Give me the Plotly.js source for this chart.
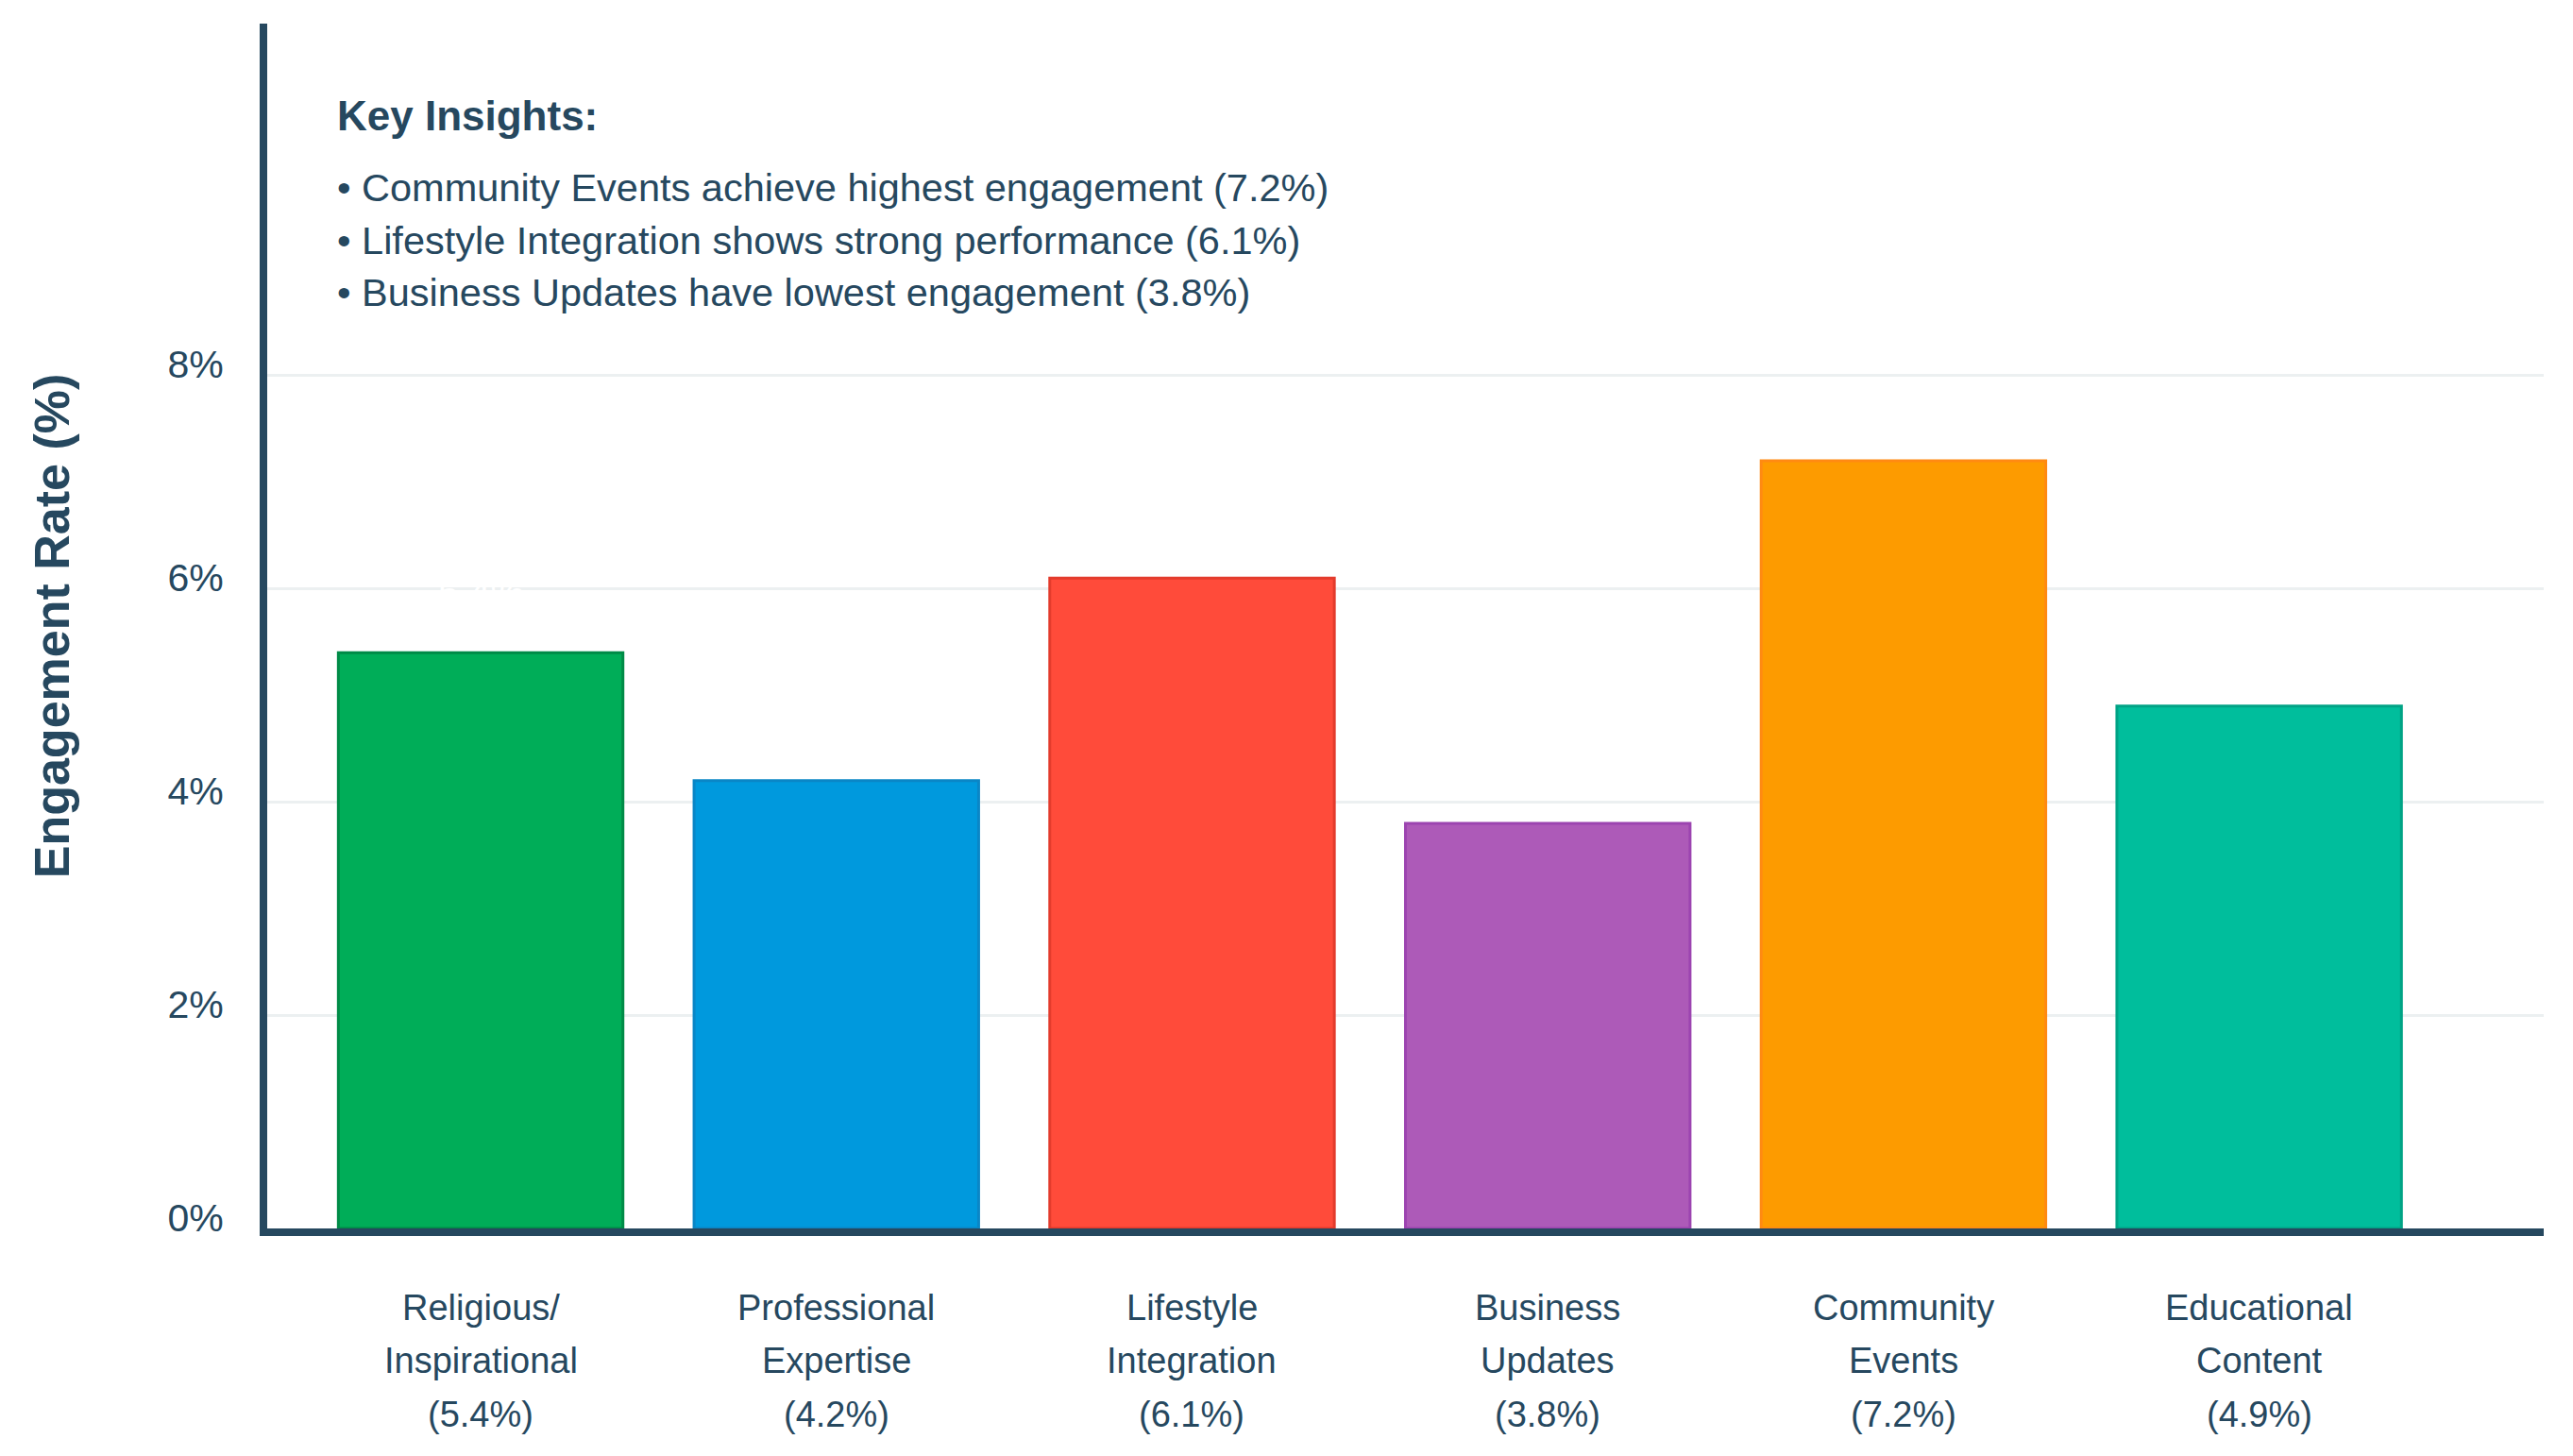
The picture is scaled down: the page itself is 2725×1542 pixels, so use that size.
<!DOCTYPE html>
<html>
<head>
<meta charset="utf-8">
<script src="https://cdn.plot.ly/plotly-3.0.1.min.js"></script>
<style>
  html, body { margin: 0; padding: 0; background: #ffffff; }
  #myDiv { width: 2725px; height: 1542px; }
</style>
</head>
<body>
<div id="myDiv"></div>
<script>
// categories and values
let categories = ["Religious/Inspirational", "Professional Expertise", "Lifestyle Integration",
  "Business Updates", "Community Events", "Educational Content"];
let labelTop = ["Religious/", "Professional", "Lifestyle", "Business", "Community", "Educational"];
let labelBottom = ["Inspirational", "Expertise", "Integration", "Updates", "Events", "Content"];
let engagement = [5.4, 4.2, 6.1, 3.8, 7.2, 4.9];

let barColors = ["#00ad58", "#0099dd", "#ff4b3a", "#ad5ab8", "#fd9b00", "#00be9c"];
let barLineColors = ["#008b47", "#0a86c6", "#e33b2c", "#9c44b0", "#ff8a12", "#00a385"];

let yTickVals = [0, 2, 4, 6, 8];
let yTickText = ["0%", "2%", "4%", "6%", "8%"];

let insightsHeading = "Key Insights:";
let insights = [
  "• Community Events achieve highest engagement (7.2%)",
  "• Lifestyle Integration shows strong performance (6.1%)",
  "• Business Updates have lowest engagement (3.8%)",
];

const FONT = "Liberation Sans, Arial, Helvetica, sans-serif";
const INK = "#26485f";

let annotations = [];

// category labels under the bars, one annotation per line
let labelShifts = [-84, -140, -197];
categories.forEach((cat, i) => {
  let lines = [labelTop[i], labelBottom[i], "(" + engagement[i].toFixed(1) + "%)"];
  lines.forEach((line, k) => {
    annotations.push({
      x: cat, xref: "x", y: 0, yref: "paper",
      yanchor: "middle", xanchor: "center", yshift: labelShifts[k],
      text: line, showarrow: false,
      font: { family: FONT, size: 38, color: INK },
    });
  });
});

// value labels above the bars (white, as in the original)
categories.forEach((cat, i) => {
  annotations.push({
    x: cat, xref: "x", y: engagement[i], yref: "y",
    yanchor: "bottom", xanchor: "center", yshift: 40,
    text: engagement[i].toFixed(1) + "%", showarrow: false,
    font: { family: FONT, size: 40, color: "#ffffff" },
  });
});

// key insights box
annotations.push({
  x: 0.0298, xref: "paper", y: 0.9234, yref: "paper",
  xanchor: "left", yanchor: "middle",
  text: insightsHeading, showarrow: false,
  font: { family: FONT, size: 44, color: INK, weight: "bold" },
});
let insightY = [0.8643, 0.8204, 0.7773];
insights.forEach((line, k) => {
  annotations.push({
    x: 0.0298, xref: "paper", y: insightY[k], yref: "paper",
    xanchor: "left", yanchor: "middle",
    text: line, showarrow: false,
    font: { family: FONT, size: 41.5, color: INK },
  });
});

let data = [
  {
    type: "bar",
    x: categories,
    y: engagement,
    width: 0.8,
    marker: {
      color: barColors,
      line: { color: barLineColors, width: 3 },
    },
    hoverinfo: "skip",
  },
];

let layout = {
  width: 2725,
  height: 1542,
  margin: { l: 283, r: 31, t: 25, b: 241 },
  paper_bgcolor: "#ffffff",
  plot_bgcolor: "#ffffff",
  showlegend: false,
  font: { family: FONT, color: INK },
  xaxis: {
    type: "category",
    range: [-0.6, 5.8],
    showticklabels: false,
    showgrid: false,
    zeroline: false,
    ticks: "",
    showline: true,
    linecolor: INK,
    linewidth: 8,
    layer: "below traces",
    fixedrange: true,
  },
  yaxis: {
    range: [0, 11.3],
    tickvals: yTickVals,
    ticktext: yTickText,
    ticklabelposition: "outside top",
    ticklabelshift: 17,
    ticks: "",
    ticklabelstandoff: 30,
    tickfont: { family: FONT, size: 41, color: INK },
    showgrid: true,
    gridcolor: "#ecf0f1",
    gridwidth: 3,
    zeroline: false,
    showline: true,
    linecolor: INK,
    linewidth: 8,
    layer: "below traces",
    fixedrange: true,
    title: {
      text: "Engagement Rate (%)",
      font: { family: FONT, size: 52, color: INK, weight: "bold" },
      standoff: 90,
    },
  },
  annotations: annotations,
};

Plotly.newPlot("myDiv", data, layout, { staticPlot: true, displayModeBar: false });
</script>
</body>
</html>
